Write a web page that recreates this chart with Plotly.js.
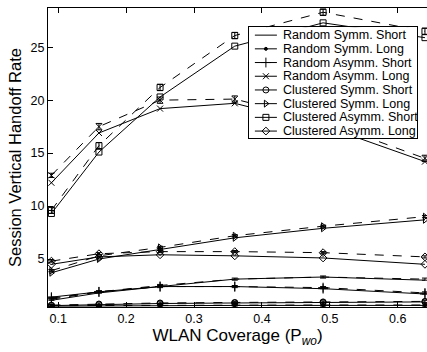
<!DOCTYPE html>
<html><head><meta charset="utf-8">
<script src="https://cdn.plot.ly/plotly-3.0.1.min.js"></script>
<style>html,body{margin:0;padding:0;background:#fff}#chart{width:427px;height:352px}</style>
</head><body><div id="chart"></div>
<script>
const coverage = [0.09, 0.16, 0.25, 0.36, 0.49, 0.64];
const seriesNames = ["Random Symm. Short","Random Symm. Long","Random Asymm. Short","Random Asymm. Long",
  "Clustered Symm. Short","Clustered Symm. Long","Clustered Asymm. Short","Clustered Asymm. Long"];
const xTicks = [0.1, 0.2, 0.3, 0.4, 0.5, 0.6];
const xTickText = ["0.1", "0.2", "0.3", "0.4", "0.5", "0.6"];
const yTicks = [5, 10, 15, 20, 25];
// analytical (solid)
const rssModel = [1.1, 1.8, 2.4, 3.1, 3.3, 3.0];
const rslModel = [0.55, 0.58, 0.6, 0.62, 0.62, 0.62];
const rasModel = [1.4, 1.9, 2.4, 2.4, 2.2, 1.7];
const ralModel = [12.2, 16.9, 19.2, 19.7, 17.6, 14.2];
const cssModel = [0.6, 0.7, 0.8, 0.85, 0.9, 0.95];
const cslModel = [3.7, 5.0, 5.9, 7.0, 7.9, 8.7];
const casModel = [9.3, 15.1, 20.3, 25.1, 27.3, 25.9];
const calModel = [4.5, 5.2, 5.4, 5.3, 5.1, 4.5];
// simulation (dashed)
const rssSim = [1.2, 1.9, 2.5, 3.1, 3.3, 3.1];
const rslSim = [0.6, 0.62, 0.65, 0.66, 0.66, 0.66];
const rasSim = [1.3, 1.9, 2.4, 2.4, 2.3, 1.8];
const ralSim = [12.9, 17.5, 20.0, 20.1, 18.0, 14.5];
const cssSim = [0.65, 0.75, 0.85, 0.9, 0.95, 1.0];
const cslSim = [3.9, 5.3, 6.1, 7.2, 8.1, 9.0];
const casSim = [9.6, 15.7, 21.2, 26.1, 28.3, 26.5];
const calSim = [4.8, 5.5, 5.7, 5.7, 5.6, 5.2];
// simulation confidence half-widths
const errSmall = [0.1, 0.1, 0.1, 0.1, 0.1, 0.1];
const errRal = [0.2, 0.3, 0.3, 0.3, 0.3, 0.3];
const errCas = [0.3, 0.3, 0.3, 0.3, 0.3, 0.3];

const models = [rssModel, rslModel, rasModel, ralModel, cssModel, cslModel, casModel, calModel];
const sims = [rssSim, rslSim, rasSim, ralSim, cssSim, cslSim, casSim, calSim];
const errs = [errSmall, errSmall, errSmall, errRal, errSmall, errSmall, errCas, errSmall];
const symbols = [null, "circle", "cross-thin", "x-thin", "circle-open", "triangle-right-open", "square-open", "diamond-open"];
const sizes = [0, 3, 7, 6, 6, 6, 6, 6];

function markerOf(i) {
  return {symbol: symbols[i], size: sizes[i], color: "#000", line: {color: "#000", width: 1}};
}
function makeTrace(i, ys, sim) {
  const t = {
    x: coverage, y: ys, type: "scatter", xaxis: "x", yaxis: "y",
    name: sim ? seriesNames[i] + " (sim)" : seriesNames[i],
    mode: symbols[i] ? "lines+markers" : "lines",
    line: {color: "#000", width: 1, dash: sim ? "dash" : "solid"}
  };
  if (symbols[i]) t.marker = markerOf(i);
  if (sim) t.error_y = {type: "data", array: errs[i], visible: true, color: "#000", thickness: 1, width: 3};
  return t;
}
const traces = [];
for (let i = 0; i < 8; i++) traces.push(makeTrace(i, models[i], false));
for (let i = 0; i < 8; i++) traces.push(makeTrace(i, sims[i], true));

// legend drawn in its own small subplot (x2/y2 in box pixel-like units, one row per series)
const annotations = [];
for (let i = 0; i < 8; i++) {
  traces.push({
    x: [255, 277], y: [i, i], type: "scatter", mode: "lines", xaxis: "x2", yaxis: "y2",
    line: {color: "#000", width: 1}, hoverinfo: "skip"
  });
  if (symbols[i]) traces.push({
    x: [266], y: [i], type: "scatter", mode: "markers", xaxis: "x2", yaxis: "y2",
    marker: markerOf(i), hoverinfo: "skip"
  });
  annotations.push({
    xref: "x2", yref: "y2", x: 281, y: i, text: seriesNames[i], showarrow: false,
    xanchor: "left", yanchor: "middle",
    font: {family: "Liberation Sans, Arial, sans-serif", size: 12.5, color: "#000"}
  });
}

const font = {family: "Liberation Sans, Arial, sans-serif", color: "#000"};
const boxAxis = {showline: true, mirror: "all", linecolor: "#000", linewidth: 1, ticks: "",
  showticklabels: false, showgrid: false, zeroline: false, fixedrange: true};
const layout = {
  width: 427, height: 352,
  margin: {l: 48, r: 0, t: 8, b: 45},
  paper_bgcolor: "#fff", plot_bgcolor: "#fff",
  font: Object.assign({size: 12}, font),
  showlegend: false,
  annotations: annotations,
  xaxis: {
    domain: [0, 1], anchor: "y",
    range: [0.085, 0.643], tickvals: xTicks, ticktext: xTickText,
    ticks: "inside", ticklen: 5, tickcolor: "#000", showline: true, linecolor: "#000", linewidth: 1,
    mirror: "ticks", showgrid: false, zeroline: false,
    tickfont: Object.assign({size: 12.5}, font),
    title: {text: "WLAN Coverage (P<sub><i>wo</i></sub>)", font: Object.assign({size: 17}, font), standoff: 4}
  },
  yaxis: {
    domain: [0, 1], anchor: "x",
    range: [0.47, 28.7], tickvals: yTicks,
    ticks: "inside", ticklen: 5, tickcolor: "#000", showline: true, linecolor: "#000", linewidth: 1,
    showgrid: false, zeroline: false,
    tickfont: Object.assign({size: 12.5}, font),
    title: {text: "Session Vertical Handoff Rate", font: Object.assign({size: 16.5}, font), standoff: 4}
  },
  xaxis2: Object.assign({domain: [0.530, 0.974], range: [249, 417], anchor: "y2"}, boxAxis),
  yaxis2: Object.assign({domain: [0.565, 0.936], range: [7.51, -0.583], anchor: "x2"}, boxAxis)
};
Plotly.newPlot("chart", traces, layout, {displayModeBar: false, staticPlot: true});
</script>
</body></html>
